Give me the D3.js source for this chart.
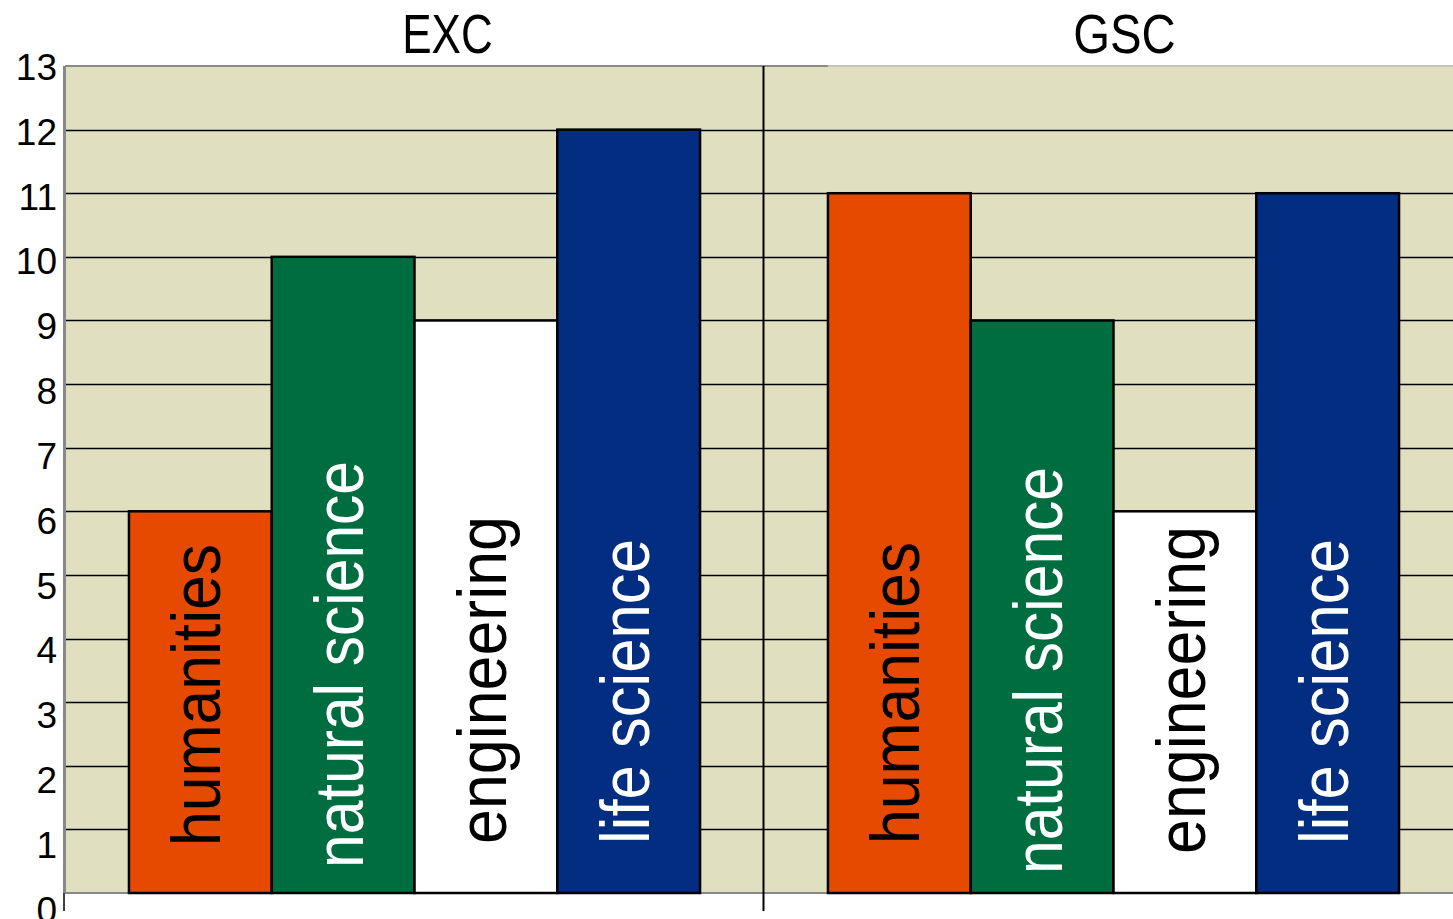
<!DOCTYPE html>
<html>
<head>
<meta charset="utf-8">
<script src="https://cdn.jsdelivr.net/npm/d3@7"></script>
<style>
  html, body { margin: 0; padding: 0; background: #fff; overflow: hidden; }
  svg { display: block; }
  text { font-family: "Liberation Sans", Arial, sans-serif; }
</style>
</head>
<body>
<svg id="chart" width="1453" height="919"></svg>
<script>
// ---- data ----
const panels = ["EXC", "GSC"];
const categories = ["humanities", "natural science", "engineering", "life science"];
const excValues = [6, 10, 9, 12];
const gscValues = [11, 9, 6, 11];
const yTicks = [0, 1, 2, 3, 4, 5, 6, 7, 8, 9, 10, 11, 12, 13];
const categoryColors = ["#e64a00", "#006d40", "#ffffff", "#022d80"];
const labelColors = ["#000000", "#ffffff", "#000000", "#ffffff"];

const seriesByPanel = { EXC: excValues, GSC: gscValues };

(function () {
// ---- layout ----
const W = 1453;
const plotLeft = 65, plotTop = 66, plotBottom = 893;
const panelWidth = 699;
const labelLengths = [302, 407, 328, 305];           // rendered length of each bar label
const labelDrop = { EXC: [2, 24, 0, 0], GSC: [0, 30, 10, 0] }; // label start offset below base
const svg = d3.select("#chart");

const x0 = d3.scaleBand().domain(panels).range([plotLeft, plotLeft + panelWidth * panels.length]).padding(0);
const x1 = d3.scaleBand().domain(categories).range([0, panelWidth]).paddingInner(0).paddingOuter(0.448);
const y = d3.scaleLinear().domain([0, 13]).range([plotBottom, plotTop]);
// tick labels are spaced slightly wider than the grid in the original
const yLabel = d3.scaleLinear().domain([0, 13]).range([910.5, 67.5]);

// background
svg.append("rect")
  .attr("x", plotLeft).attr("y", plotTop)
  .attr("width", W - plotLeft).attr("height", plotBottom - plotTop)
  .attr("fill", "#e0e0c0");

// gridlines
svg.append("g").selectAll("line")
  .data(yTicks.filter(t => t > 0 && t < 13))
  .join("line")
  .attr("x1", plotLeft).attr("x2", W)
  .attr("y1", d => Math.round(y(d)) + 0.5).attr("y2", d => Math.round(y(d)) + 0.5)
  .attr("stroke", "#000").attr("stroke-width", 1.5);

// frame
const gscStart = x0("GSC") + x1(categories[0]);
svg.append("line").attr("x1", plotLeft).attr("x2", gscStart)
  .attr("y1", plotTop).attr("y2", plotTop).attr("stroke", "#888").attr("stroke-width", 2);
svg.append("line").attr("x1", gscStart).attr("x2", W)
  .attr("y1", plotTop).attr("y2", plotTop).attr("stroke", "#c4c4bc").attr("stroke-width", 2);
svg.append("line").attr("x1", plotLeft).attr("x2", W)
  .attr("y1", plotBottom).attr("y2", plotBottom).attr("stroke", "#888").attr("stroke-width", 2);
svg.append("line").attr("x1", plotLeft - 0.5).attr("x2", plotLeft - 0.5)
  .attr("y1", plotTop).attr("y2", plotBottom).attr("stroke", "#888").attr("stroke-width", 3);
svg.append("line").attr("x1", plotLeft - 1).attr("x2", plotLeft - 1)
  .attr("y1", plotBottom).attr("y2", plotBottom + 18).attr("stroke", "#000").attr("stroke-width", 1.5);

// panel divider(s)
svg.append("g").selectAll("line")
  .data(panels.slice(1))
  .join("line")
  .attr("x1", d => x0(d) - 0.5).attr("x2", d => x0(d) - 0.5)
  .attr("y1", plotTop).attr("y2", plotBottom + 18)
  .attr("stroke", "#000").attr("stroke-width", 2);

// bars
const panelG = svg.append("g").selectAll("g")
  .data(panels)
  .join("g")
  .attr("transform", d => `translate(${x0(d)},0)`);

const rows = p => seriesByPanel[p].map((v, i) => ({ panel: p, cat: categories[i], value: v, i }));

panelG.selectAll("rect")
  .data(rows)
  .join("rect")
  .attr("x", d => x1(d.cat))
  .attr("y", d => y(d.value))
  .attr("width", x1.bandwidth())
  .attr("height", d => y(0) - y(d.value))
  .attr("fill", d => categoryColors[d.i])
  .attr("stroke", "#000")
  .attr("stroke-width", 2.5);

// bar labels (vertical)
panelG.selectAll("text.bar-label")
  .data(rows)
  .join("text")
  .attr("class", "bar-label")
  .attr("transform", d => `translate(${x1(d.cat) + x1.bandwidth() / 2 + 20},${plotBottom - 49 + labelDrop[d.panel][d.i]}) rotate(-90)`)
  .attr("text-anchor", "start")
  .attr("font-size", 68)
  .attr("textLength", d => labelLengths[d.i])
  .attr("lengthAdjust", "spacingAndGlyphs")
  .attr("fill", d => labelColors[d.i])
  .text(d => d.cat);

// panel titles
const titleDx = [33, 11];
const titleScale = [0.8, 0.86];
svg.append("g").selectAll("text")
  .data(panels)
  .join("text")
  .attr("transform", (d, i) => `translate(${x0(d) + panelWidth / 2 + titleDx[i]},53) scale(${titleScale[i]},1)`)
  .attr("text-anchor", "middle")
  .attr("font-size", 55)
  .attr("fill", "#000")
  .text(d => d);

// y axis labels
const yAxis = d3.axisLeft(yLabel).tickValues(yTicks).tickSize(0).tickPadding(0).tickFormat(d3.format("d"));
const ag = svg.append("g").attr("transform", "translate(57,0)").call(yAxis);
ag.select(".domain").remove();
ag.selectAll("text")
  .attr("font-size", 37)
  .attr("font-family", "Liberation Sans, Arial, sans-serif")
  .attr("fill", "#000");
})();
</script>
</body>
</html>
